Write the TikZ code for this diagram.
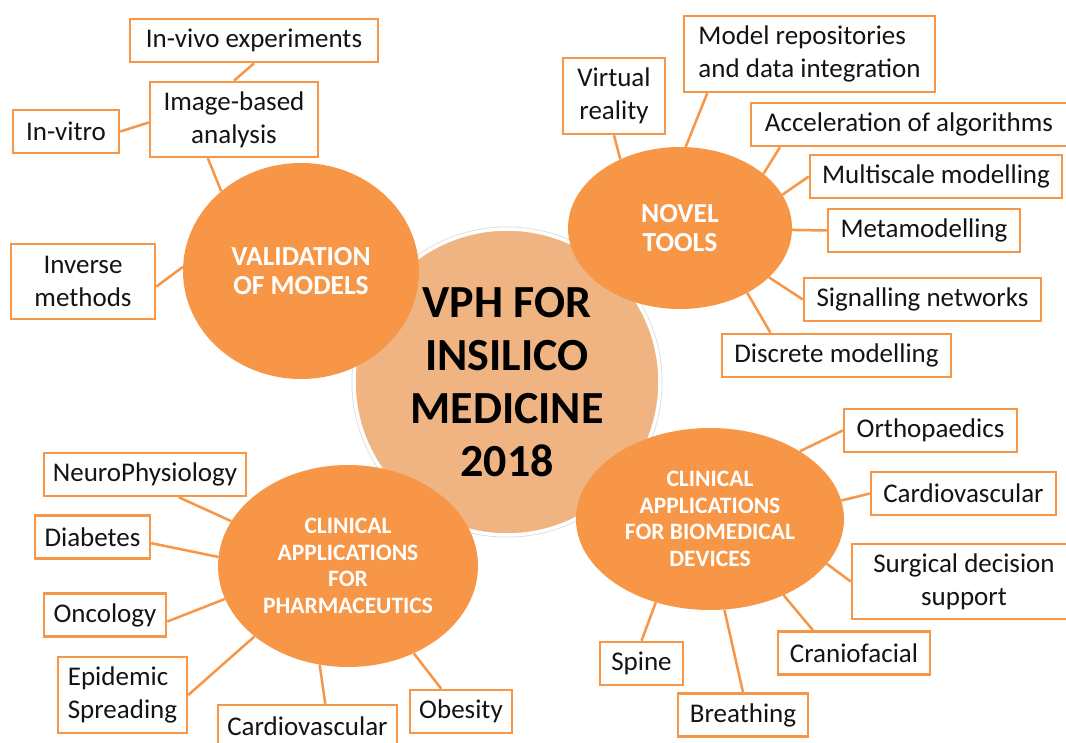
\documentclass[tikz,border=0pt]{standalone}
\usepackage{fontspec}
\setmainfont{Carlito}
\usepackage{tikz}
\usetikzlibrary{shapes.geometric, backgrounds}
\definecolor{topicFill}{HTML}{F79646}
\definecolor{hubFill}{HTML}{F0B482}
\definecolor{lineColor}{HTML}{F79646}
\definecolor{textColor}{HTML}{141414}
\tikzset{
    hub_node/.style={
        circle,
        fill=hubFill,
        draw=white,
        line width=3.5pt,
        preaction={draw=black!15, line width=5pt},
        minimum size=306pt,
        inner sep=0pt,
        align=center,
        text=black,
        font=\fontsize{46}{53}\selectfont\bfseries
    },
    topic_node/.style={
        ellipse,
        fill=topicFill,
        inner sep=0pt,
        align=center,
        text=white,
        font=\fontsize{27.5}{28.5}\selectfont\bfseries
    },
    topic_small/.style={
        topic_node,
        font=\fontsize{23.5}{26.5}\selectfont\bfseries
    },
    leaf_box/.style={
        rectangle,
        draw=lineColor,
        line width=2.5pt,
        fill=white,
        inner sep=0pt,
        minimum height=43pt,
        align=center,
        text=textColor,
        font=\fontsize{27}{33}\selectfont
    },
    link_edge/.style={
        draw=lineColor,
        line width=2.5pt
    }
}

\begin{document}
\begin{tikzpicture}[x=1pt, y=-1pt]
        \useasboundingbox (0,0) rectangle (1066,743);

        \node[hub_node] (hub) at (507,382) {VPH FOR\\INSILICO\\MEDICINE\\2018};

        % the four topics
        \node[topic_node, minimum width=236pt, minimum height=216pt] (valid) at (301,271) {VALIDATION\\OF MODELS};
        \node[topic_node, minimum width=224pt, minimum height=162pt] (novel) at (680,228) {NOVEL\\TOOLS};
        \node[topic_small, minimum width=260pt, minimum height=202pt] (pharma) at (348,566) {CLINICAL\\APPLICATIONS\\FOR\\PHARMACEUTICS};
        \node[topic_small, minimum width=268pt, minimum height=182pt] (biomed) at (710,519) {CLINICAL\\APPLICATIONS\\FOR BIOMEDICAL\\DEVICES};

        \node[leaf_box, minimum width=248pt] (invivo) at (254,40.5) {In-vivo experiments};
        \node[leaf_box, minimum width=168pt, minimum height=75pt] (imgbased) at (234,119.5) {Image-based\\analysis};
        \node[leaf_box, minimum width=106pt] (invitro) at (66,131.5) {In-vitro};
        \node[leaf_box, minimum width=144pt, minimum height=75pt] (inverse) at (83,281.5) {Inverse\\methods};

        \node[leaf_box, minimum width=102pt, minimum height=76pt] (vreality) at (614,96) {Virtual\\reality};
        \node[leaf_box, minimum width=251pt, minimum height=76pt, align=left] (modelrepo) at (809.5,54) {Model repositories\\and data integration};
        \node[leaf_box, minimum width=316pt] (accel) at (909,124.5) {Acceleration of algorithms};
        \node[leaf_box, minimum width=252pt] (multiscale) at (936,176.5) {Multiscale modelling};
        \node[leaf_box, minimum width=192pt] (metamod) at (924,230.5) {Metamodelling};
        \node[leaf_box, minimum width=237pt] (signal) at (922.5,299.5) {Signalling networks};
        \node[leaf_box, minimum width=229pt] (discrete) at (836.5,355.5) {Discrete modelling};

        \node[leaf_box, minimum width=202pt] (neuro) at (145,474.5) {NeuroPhysiology};
        \node[leaf_box, minimum width=115pt] (diabetes) at (92.5,537) {Diabetes};
        \node[leaf_box, minimum width=122pt] (oncology) at (105,615) {Oncology};
        \node[leaf_box, minimum width=129pt, minimum height=76pt, align=left] (epidemic) at (122.5,695) {Epidemic\\Spreading};
        \node[leaf_box, minimum width=179pt] (cardiopharma) at (307.5,726.5) {Cardiovascular};
        \node[leaf_box, minimum width=102pt] (obesity) at (461,711.5) {Obesity};

        \node[leaf_box, minimum width=173pt] (ortho) at (930.5,430.5) {Orthopaedics};
        \node[leaf_box, minimum width=185pt] (cardiodev) at (963.5,493.5) {Cardiovascular};
        \node[leaf_box, minimum width=224pt, minimum height=75pt] (surgical) at (964,581.5) {Surgical decision\\support};
        \node[leaf_box, minimum width=152pt] (cranio) at (854,653) {Craniofacial};
        \node[leaf_box, minimum width=83pt] (spine) at (641.5,663.5) {Spine};
        \node[leaf_box, minimum width=130pt] (breathing) at (743,715) {Breathing};

        % links sit under the boxes
        \begin{scope}[on background layer]
            \fill[white] (0,0) rectangle (1066,743);
            \draw[link_edge]
                (invivo.south) -- (imgbased.north)
                (invitro.east) -- (imgbased.182)
                (imgbased.236) -- (valid.135.7)
                (inverse.-4) -- (valid.178);
            \draw[link_edge]
                (vreality.south) -- (novel.131)
                (modelrepo.201) -- (novel.86)
                (accel.190) -- (novel.33.5)
                (multiscale.west) -- (novel.18)
                (metamod.west) -- (novel.-1.5)
                (signal.west) -- (novel.-29.6)
                (discrete.161) -- (novel.-44);
            \draw[link_edge]
                (neuro.-34) -- (pharma.159)
                (diabetes.-6) -- (pharma.176)
                (oncology.-6.4) -- (pharma.195)
                (epidemic.east) -- (pharma.217.7)
                (cardiopharma.52) -- (pharma.254.7)
                (obesity.131.6) -- (pharma.-53);
            \draw[link_edge]
                (ortho.west) -- (biomed.37)
                (cardiodev.west) -- (biomed.8.6)
                (surgical.west) -- (biomed.-21.5)
                (cranio.151) -- (biomed.-46)
                (spine.north) -- (biomed.237)
                (breathing.north) -- (biomed.279);
        \end{scope}
    \end{tikzpicture}
\end{document}
